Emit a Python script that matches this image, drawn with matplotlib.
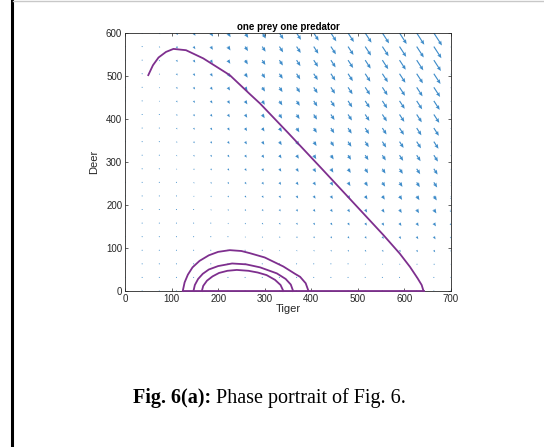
import numpy as np
import matplotlib
matplotlib.use("Agg")
import matplotlib.pyplot as plt
from matplotlib.lines import Line2D

# trajectories (Tiger, Deer)
outer_x = [50, 60, 72, 88, 104, 131, 168, 225, 268, 290, 350, 422, 483, 555, 590, 612, 628, 637, 641]
outer_y = [502, 525, 543, 556, 563, 560, 541, 502, 458, 436, 368, 285, 214, 130, 87, 56, 30, 14, 0]

arc1_x = [124, 128, 135, 145, 160, 180, 200, 225, 250, 268, 300, 340, 365, 376, 388, 394]
arc1_y = [0, 20, 38, 55, 70, 83, 91, 95, 93, 88, 78, 57, 40, 33, 18, 0]
arc2_x = [147, 150, 157, 167, 180, 200, 230, 260, 290, 326, 345, 356, 361]
arc2_y = [0, 14, 28, 40, 50, 58, 64, 62, 55, 41, 28, 15, 0]
arc3_x = [165, 168, 176, 188, 202, 220, 240, 265, 285, 304, 322, 334, 340]
arc3_y = [0, 12, 24, 34, 42, 47, 49, 47, 43, 37, 26, 14, 0]

base_x = [124, 641]
base_y = [0, 0]

# quiver grid and relative arrow sizes
grid_x = np.linspace(0, 700, 20)
grid_y = np.linspace(0, 600, 20)
col_w = [0, .05, .1, .16, .21, .26, .31, .36, .41, .46, .51, .57, .62, .67, .72, .77, .82, .87, .93, 1.0]
row_w = [0, .05, .1, .16, .21, .26, .31, .36, .41, .46, .51, .57, .62, .67, .72, .77, .82, .87, .93, 1.0]
ARROW_ANGLE = 57  # degrees below horizontal on screen

PURPLE = '#7E2F8E'
BLUE = '#2a80c4'
DARK = '#262626'

fig = plt.figure(figsize=(5.44, 4.47), dpi=100)
ax = fig.add_axes([125 / 544, 1 - 291 / 447, 326 / 544, 258 / 447])

X, Y = np.meshgrid(grid_x, grid_y)
mag = np.outer(row_w, col_w)
U = mag * np.cos(np.radians(ARROW_ANGLE))
V = -mag * np.sin(np.radians(ARROW_ANGLE))
ax.quiver(X, Y, U, V, color=BLUE, scale=326 / 16, scale_units='width',
          width=0.0035, headwidth=3.5, headlength=4, headaxislength=3.5,
          alpha=0.9, zorder=1)

for xs, ys in [(outer_x, outer_y), (arc1_x, arc1_y), (arc2_x, arc2_y),
               (arc3_x, arc3_y), (base_x, base_y)]:
    ax.plot(xs, ys, color=PURPLE, lw=1.3, zorder=3, clip_on=False)

ax.set_xlim(0, 700)
ax.set_ylim(0, 600)
ax.set_xticks(range(0, 701, 100))
ax.set_yticks(range(0, 601, 100))
ax.tick_params(direction='in', length=2.5, width=0.5, top=True, right=True,
               labelsize=7, colors=DARK, pad=2)
for s in ax.spines.values():
    s.set_color(DARK)
    s.set_linewidth(0.6)

font = 'Liberation Sans'
for lab in ax.get_xticklabels() + ax.get_yticklabels():
    lab.set_family(font)
ax.set_title('one prey one predator', fontsize=7, fontweight='bold',
             family=font, pad=2)
ax.set_xlabel('Tiger', fontsize=8, family=font, labelpad=0, color=DARK)
ax.set_ylabel('Deer', fontsize=8, family=font, labelpad=5, color=DARK)

# frame lines of the page
fig.add_artist(Line2D([12 / 544, 12 / 544], [0, 1], color='black', lw=2.2))
fig.add_artist(Line2D([13 / 544, 1], [1 - 1 / 447, 1 - 1 / 447], color='#c8c8c8', lw=1))

# caption
cap_y = 1 - 398 / 447
split = 211 / 544
fig.text(split, cap_y, 'Fig. 6(a):', ha='right', va='center', fontsize=14.5,
         fontweight='bold', family='Liberation Serif')
fig.text(split + 5 / 544, cap_y, 'Phase portrait of Fig. 6.', ha='left',
         va='center', fontsize=14.5, family='Liberation Serif')

fig.savefig('out.png', dpi=100)
